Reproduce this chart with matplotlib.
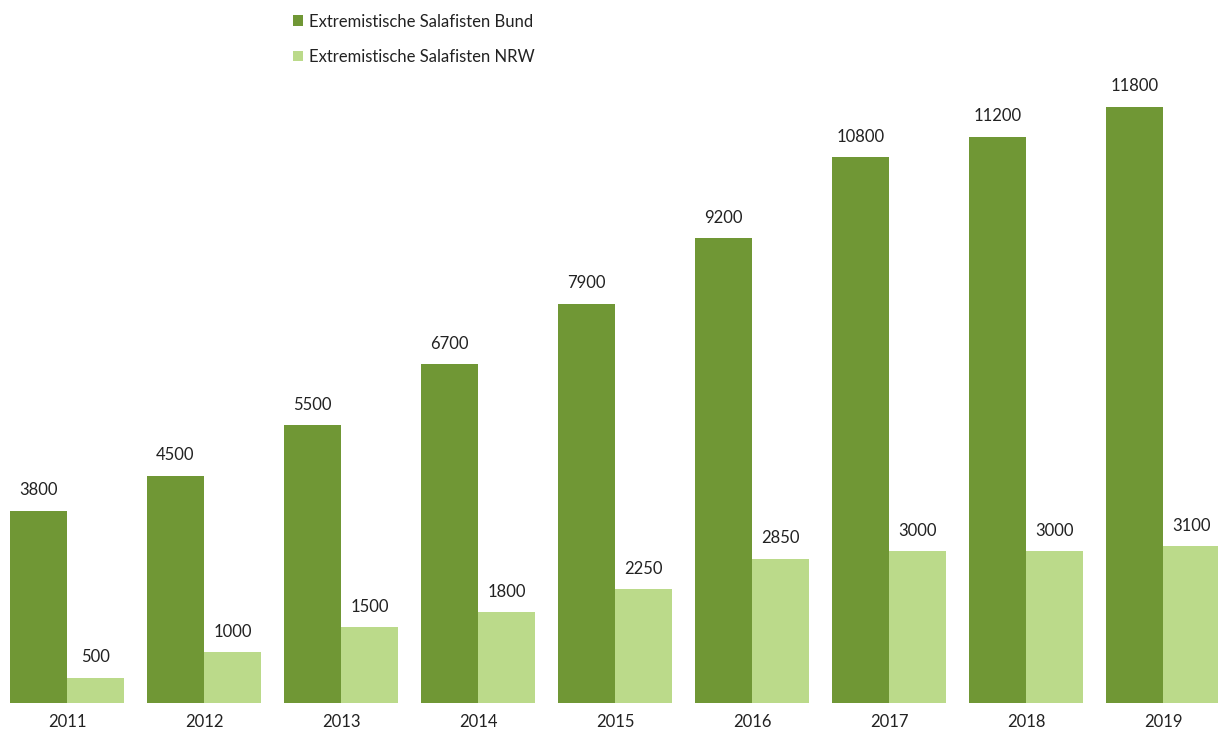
import matplotlib
matplotlib.use("Agg")
import matplotlib.pyplot as plt
import numpy as np

years = ["2011", "2012", "2013", "2014", "2015", "2016", "2017", "2018", "2019"]
bund = [3800, 4500, 5500, 6700, 7900, 9200, 10800, 11200, 11800]
nrw = [500, 1000, 1500, 1800, 2250, 2850, 3000, 3000, 3100]
series_names = ["Extremistische Salafisten Bund", "Extremistische Salafisten NRW"]

dark = "#709735"
light = "#BBDA8A"

plt.rcParams["font.family"] = ["Lato", "DejaVu Sans"]

W, H = 1218, 734
fig = plt.figure(figsize=(W / 100, H / 100), dpi=100)
base_px = 703
top_px = 46
ax = fig.add_axes([0, (H - base_px) / H, 1, (base_px - top_px) / H])

pitch = 137.0
x = np.arange(len(years))
bw = 57 / pitch
b1 = ax.bar(x - bw / 2, bund, bw, color=dark, label=series_names[0])
b2 = ax.bar(x + bw / 2, nrw, bw, color=light, label=series_names[1])

for rects, vals in ((b1, bund), (b2, nrw)):
    for r, v in zip(rects, vals):
        ax.annotate(f"{v}", (r.get_x() + r.get_width() / 2, v),
                    xytext=(0, 9), textcoords="offset points",
                    ha="center", va="bottom", fontsize=12, color="#222222")

ax.set_ylim(0, 13000)
ax.set_xlim(-67 / pitch, (W - 67) / pitch)
ax.set_xticks(x)
ax.set_xticklabels(years, fontsize=12, color="#222222")
ax.tick_params(axis="x", length=0, pad=8)
ax.set_yticks([])
for s in ax.spines.values():
    s.set_visible(False)

fig.legend(handles=[b1, b2], loc="upper left",
           bbox_to_anchor=(286 / W, 1 - 7 / H), frameon=False,
           fontsize=12, handlelength=0.6, handleheight=0.6,
           handletextpad=0.4, labelspacing=1.15, borderaxespad=0,
           labelcolor="#222222")

fig.savefig("out.png", dpi=100, facecolor="white")
